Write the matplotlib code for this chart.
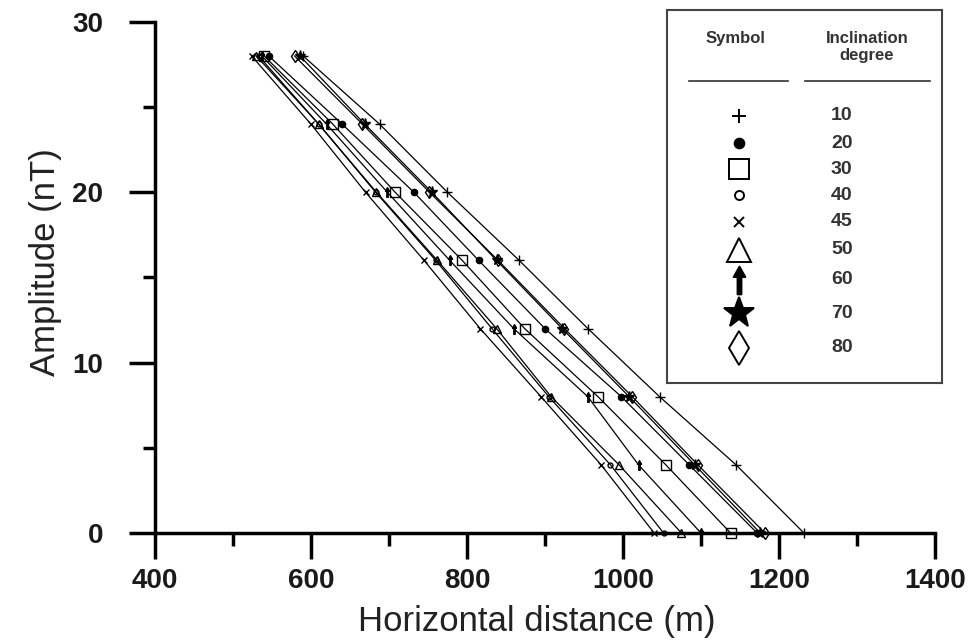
import matplotlib.pyplot as plt
from matplotlib.path import Path

plt.rcParams['font.family'] = ['Liberation Sans', 'DejaVu Sans']

# amplitude levels (nT) and inclinations (degree)
amplitude = [0, 4, 8, 12, 16, 20, 24, 28]
inclination = [10, 20, 30, 40, 45, 50, 60, 70, 80]

# horizontal distance (m) at each amplitude level, one list per inclination
dist_10 = [1232, 1145, 1047, 955, 867, 775, 688, 590]
dist_20 = [1172, 1085, 998, 900, 815, 732, 640, 546]
dist_30 = [1138, 1055, 968, 874, 794, 708, 628, 540]
dist_40 = [1052, 984, 905, 832, 760, 683, 610, 533]
dist_45 = [1040, 972, 895, 817, 745, 670, 600, 524]
dist_50 = [1075, 995, 908, 838, 762, 684, 610, 530]
dist_60 = [1100, 1020, 955, 860, 778, 698, 620, 537]
dist_70 = [1176, 1092, 1008, 922, 838, 755, 669, 586]
dist_80 = [1182, 1096, 1012, 925, 840, 752, 666, 579]

series = [dist_10, dist_20, dist_30, dist_40, dist_45,
          dist_50, dist_60, dist_70, dist_80]

# upward arrow marker
arrow = Path([(-0.14, -1), (0.14, -1), (0.14, 0.25), (0.42, 0.25), (0, 1),
              (-0.42, 0.25), (-0.14, 0.25), (-0.14, -1)],
             [Path.MOVETO] + [Path.LINETO] * 6 + [Path.CLOSEPOLY])

# marker, face colour, size in plot, size in legend
styles = [
    ('+', 'k', 7, 10),
    ('o', 'k', 4.5, 7),
    ('s', 'none', 6.5, 15),
    ('o', 'none', 3.5, 6.5),
    ('x', 'k', 5, 7.5),
    ('^', 'none', 6, 17),
    (arrow, 'k', 7, 20),
    ('*', 'k', 8, 23),
    ('d', 'none', 6, 17),
]

fig = plt.figure(figsize=(9.74, 6.43), dpi=100)
ax = fig.add_axes([0.159, 0.171, 0.801, 0.795])

for d, (m, fc, ms, _) in zip(series, styles):
    ax.plot(d, amplitude, color='k', lw=0.9, marker=m, ms=ms,
            mfc=fc, mec='k', mew=1.0, clip_on=False)

ax.set_xlim(400, 1400)
ax.set_ylim(0, 30)
ax.set_xticks(range(400, 1401, 200))
ax.set_xticks(range(500, 1400, 200), minor=True)
ax.set_yticks([0, 10, 20, 30])
ax.set_yticks([5, 15, 25], minor=True)
for s in ['top', 'right']:
    ax.spines[s].set_visible(False)
for s in ['left', 'bottom']:
    ax.spines[s].set_linewidth(2.5)
ax.tick_params(which='major', length=19, width=2.5, direction='out')
ax.tick_params(which='minor', length=9, width=2.5, direction='out')
ax.tick_params(axis='y', which='major', pad=18)
ax.tick_params(axis='x', which='major', pad=6)
for lab in ax.get_xticklabels() + ax.get_yticklabels():
    lab.set_fontweight('bold')
    lab.set_fontsize(20)
    lab.set_color('#1a1a1a')
ax.set_xlabel('Horizontal distance (m)', fontsize=25, color='#222222', va='center')
ax.set_ylabel('Amplitude (nT)', fontsize=25, color='#222222', va='center')
ax.xaxis.set_label_coords(0.49, -0.174)
ax.yaxis.set_label_coords(-0.14, 0.53)

# legend table in its own box (pixel-like coordinates)
lax = fig.add_axes([667 / 974, 1 - 383 / 643, 275 / 974, 373 / 643])
lax.set_xlim(667, 942)
lax.set_ylim(383, 10)
lax.set_xticks([])
lax.set_yticks([])
for s in lax.spines.values():
    s.set_linewidth(1.5)
    s.set_color('#444444')

lax.text(735, 38, 'Symbol', ha='center', va='center', fontsize=12,
         fontweight='bold', color='#333333')
lax.text(867, 47, 'Inclination\ndegree', ha='center', va='center', fontsize=12,
         fontweight='bold', color='#333333', linespacing=1.2)
lax.plot([689, 788], [81, 81], color='#333333', lw=1.2)
lax.plot([805, 930], [81, 81], color='#333333', lw=1.2)

row_y = [116, 143, 169, 195, 222, 250, 280, 313, 348]
for inc, ry, (m, fc, _, lms) in zip(inclination, row_y, styles):
    lax.plot([739], [ry], marker=m, ms=lms, mfc=fc, mec='k', mew=1.4,
             linestyle='none')
    lax.text(831, ry, str(inc), ha='left', va='center', fontsize=14,
             fontweight='bold', color='#333333')

fig.savefig('out.png', dpi=100)
